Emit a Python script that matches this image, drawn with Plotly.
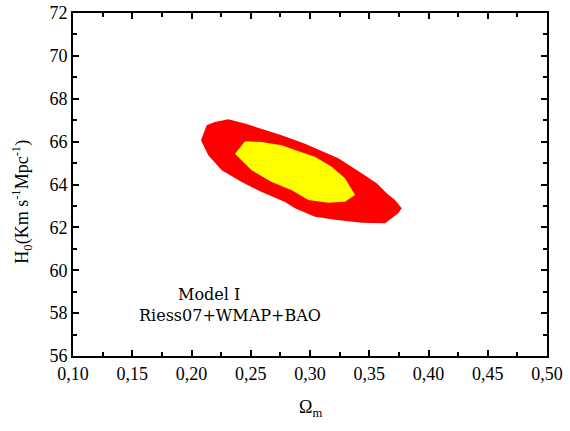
import plotly.graph_objects as go

# 95% (red) confidence region boundary: Omega_m, H0
red_om = [0.2080, 0.2128, 0.2198, 0.2311, 0.2451, 0.2592, 0.2761, 0.2958, 0.3042,
          0.3239, 0.3436, 0.3563, 0.3647, 0.3717, 0.3774, 0.3745, 0.3633, 0.3436,
          0.3211, 0.3042, 0.2873, 0.2789, 0.2592, 0.2424, 0.2255, 0.2142]
red_h0 = [66.06, 66.76, 66.92, 67.04, 66.84, 66.60, 66.30, 65.90, 65.69,
          65.22, 64.52, 64.06, 63.59, 63.28, 62.89, 62.66, 62.19, 62.22,
          62.35, 62.50, 62.89, 63.18, 63.65, 64.12, 64.66, 65.36]

# 68% (yellow) confidence region boundary
yel_om = [0.2367, 0.2451, 0.2592, 0.2761, 0.2873, 0.3042, 0.3183, 0.3295,
          0.3380, 0.3295, 0.3154, 0.2986, 0.2846, 0.2677, 0.2508]
yel_h0 = [65.44, 66.02, 65.98, 65.83, 65.61, 65.30, 64.83, 64.29,
          63.51, 63.20, 63.15, 63.28, 63.73, 64.12, 64.66]

x_ticks = [0.10, 0.15, 0.20, 0.25, 0.30, 0.35, 0.40, 0.45, 0.50]
y_ticks = [56, 58, 60, 62, 64, 66, 68, 70, 72]

fig = go.Figure()
fig.add_trace(go.Scatter(x=red_om + [red_om[0]], y=red_h0 + [red_h0[0]],
                         fill="toself", fillcolor="#ff0000", mode="lines",
                         line=dict(width=0, color="#ff0000"), hoverinfo="skip",
                         showlegend=False))
fig.add_trace(go.Scatter(x=yel_om + [yel_om[0]], y=yel_h0 + [yel_h0[0]],
                         fill="toself", fillcolor="#ffff00", mode="lines",
                         line=dict(width=0, color="#ffff00"), hoverinfo="skip",
                         showlegend=False))

axis_common = dict(
    showline=True, linecolor="black", linewidth=2, mirror="allticks",
    ticks="inside", ticklen=6, tickwidth=1.5, tickcolor="black",
    showgrid=False, zeroline=False, automargin=False, ticklabeloverflow="allow",
    tickfont=dict(family="Liberation Serif", size=18, color="black"),
)

fig.update_layout(
    width=570, height=431,
    margin=dict(l=73, r=23, t=13, b=75),
    paper_bgcolor="white", plot_bgcolor="white",
    separators=",.",
    xaxis=dict(range=[0.10, 0.50], tickvals=x_ticks, tickformat=".2f",
               minor=dict(dtick=0.025, ticks="inside", ticklen=4, tickcolor="black", tickwidth=1.5),
               **axis_common),
    yaxis=dict(range=[56, 72], tickvals=y_ticks,
               minor=dict(dtick=1, ticks="inside", ticklen=4, tickcolor="black", tickwidth=1.5),
               **axis_common),
    annotations=[
        dict(text="Model I", xref="x", yref="y", x=0.2148, y=58.85,
             showarrow=False, font=dict(family="DejaVu Serif", size=16, color="black")),
        dict(text="Riess07+WMAP+BAO", xref="x", yref="y", x=0.2329, y=57.91,
             showarrow=False, font=dict(family="DejaVu Serif", size=16, color="black")),
        dict(text="H<sub>0</sub>(Km s<sup>-1</sup>Mpc<sup>-1</sup>)", xref="paper", yref="paper",
             x=0, y=0.45, xanchor="center", yanchor="middle", xshift=-51, textangle=-90,
             showarrow=False, font=dict(family="Liberation Serif", size=18, color="black")),
        dict(text="Ω<sub>m</sub>", xref="paper", yref="paper",
             x=0.5, y=0, xanchor="center", yanchor="middle", yshift=-52,
             showarrow=False, font=dict(family="Liberation Serif", size=18, color="black")),
    ],
)

# remove the page's default 8px body margin so the figure sits at the window origin
fig.write_html("out.html", config={"displayModeBar": False},
               post_script="document.body.style.margin='0';")
